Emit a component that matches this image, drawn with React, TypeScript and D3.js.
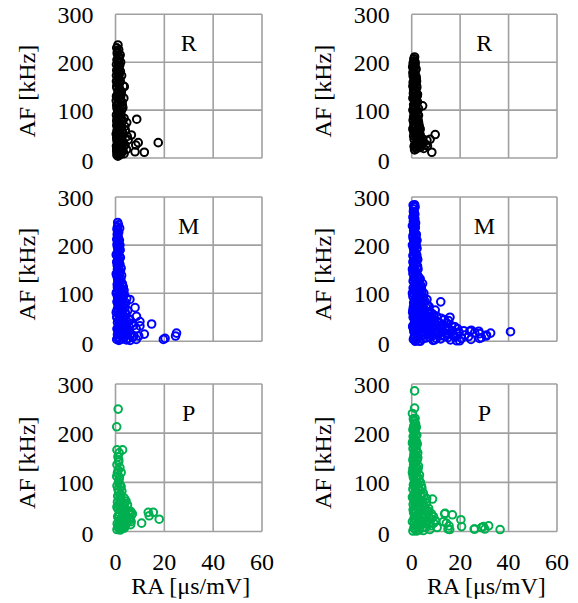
import React from "react";
import * as d3 from "d3";

const xTicks = [0, 20, 40, 60];
const yTicks = [0, 100, 200, 300];
const xTitle = "RA [μs/mV]";
const yTitle = "AF [kHz]";

// [RA, AF]
const R_left: [number, number][] = [
  [1.0,236],[0.8,222],[1.2,213],[0.6,205],[1.4,198],[0.9,190],[0.5,183],[1.6,176],[1.1,170],[0.7,163],
  [1.8,158],[1.3,152],[0.6,146],[2.0,141],[1.0,136],[1.5,130],[0.8,125],[2.2,120],[1.2,115],[0.5,110],
  [1.7,105],[2.5,100],[0.9,96],[1.4,92],[2.0,88],[0.7,84],[1.1,80],[2.8,76],[1.6,72],[0.5,68],
  [2.3,64],[1.0,60],[1.8,56],[3.0,52],[0.8,48],[1.5,44],[2.4,40],[0.6,36],[1.2,32],[2.0,28],
  [3.3,24],[0.9,20],[1.6,16],[2.6,12],[0.7,9],[1.3,6],[0.5,14],[2.1,200],[0.4,160],[2.5,172],
  [3.6,149],[3.2,150],[4.6,74],[3.5,83],[6.5,48],[8.7,81],[17.5,32],[11.8,12],[9.3,32],[8.0,13],
  [3.9,27],[2.3,10],[8.3,27],[5.2,38],[4.0,58],[2.7,45],[3.0,105],[2.2,130],[1.9,215],[0.3,120],
  [0.4,90],[0.3,50],[0.4,25],[1.0,4],
  [0.5,230],[1.3,226],[0.7,218],[1.5,209],[1.0,202],[0.4,195],[1.7,193],[1.2,186],[0.8,179],[2.0,181],
  [1.4,167],[0.4,172],[1.9,162],[1.0,156],[0.5,150],[1.6,145],[2.4,138],[0.9,132],[1.3,127],[0.4,129],
  [1.9,123],[2.7,116],[1.0,112],[0.6,104],[1.3,100],[2.0,95],[1.6,86],[0.5,78],[2.4,82],[1.2,70],
  [0.8,74],[2.0,66],[1.5,62],[0.6,57],[2.6,58],[1.2,52],[2.0,47],[0.5,42],[1.0,40],[1.8,36],
  [3.0,34],[0.8,28],[1.5,24],[2.4,20],[0.5,18],[1.9,12],[1.0,11],[3.0,15],[2.0,7],[0.6,6],
  [3.5,9],[4.5,18],[2.9,30],[4.8,45],[3.8,66],[2.2,90],[2.8,110],[3.4,125],
];

const R_right: [number, number][] = [
  [1.2,211],[1.0,203],[1.4,196],[0.8,189],[1.6,183],[1.1,177],[0.6,171],[1.9,165],[1.3,159],[0.9,153],
  [2.1,147],[1.5,141],[0.7,135],[1.8,129],[1.2,123],[2.4,117],[0.8,111],[4.5,109],[1.6,105],[2.2,99],
  [1.0,94],[2.8,89],[1.4,84],[0.6,79],[2.0,74],[3.0,69],[1.2,64],[2.5,59],[0.9,55],[3.3,51],
  [1.7,47],[2.6,43],[1.0,39],[3.8,36],[2.0,32],[1.3,28],[1.2,17],[4.2,27],[5.9,28],[6.3,37],
  [7.6,39],[9.7,49],[8.3,12],[4.5,40],[2.9,24],[1.5,22],[3.5,60],[2.6,80],[2.3,130],[2.0,160],
  [0.5,60],[0.5,100],[0.5,150],[0.4,190],[3.0,45],
  [0.9,207],[1.4,200],[0.6,198],[1.2,192],[1.8,186],[0.8,181],[1.4,174],[0.5,178],[1.8,170],[1.0,165],
  [1.5,156],[0.6,158],[2.0,151],[1.2,145],[0.8,142],[1.7,137],[2.4,133],[1.0,128],[0.5,125],[1.6,120],
  [2.0,113],[1.1,108],[2.8,103],[0.9,101],[1.8,96],[2.4,91],[1.4,90],[0.8,86],[2.1,83],[1.5,77],
  [2.8,75],[0.9,71],[1.8,67],[3.2,64],[0.7,63],[2.2,56],[1.4,52],[3.4,48],[2.0,45],[0.8,46],
  [2.6,38],[4.8,33],[3.5,30],[2.3,26],[1.0,24],[1.9,19],[3.6,22],[6.5,25],[5.0,20],
];

const M_left: [number, number][] = [
  [0.9,247],[0.8,238],[1.0,230],[0.7,222],[1.2,215],[0.9,208],[0.6,201],[1.4,195],[1.0,189],[0.7,183],
  [1.6,177],[1.1,171],[0.5,165],[1.8,160],[1.2,155],[0.8,150],[2.0,145],[1.4,140],[0.6,135],[2.2,130],
  [1.0,126],[1.6,122],[0.7,118],[3.2,113],[2.4,110],[1.2,106],[0.5,102],[1.9,98],[2.8,94],[1.0,90],
  [4.6,89],[1.5,86],[0.6,82],[2.3,79],[3.4,76],[1.1,73],[5.9,87],[8.0,70],[1.8,69],[0.7,66],
  [2.7,63],[4.0,60],[1.3,57],[3.9,51],[2.2,54],[0.5,50],[8.6,52],[3.0,47],[1.6,44],[4.6,42],
  [10.0,41],[6.6,37],[0.8,39],[2.5,35],[14.8,36],[4.2,30],[1.2,31],[3.5,27],[10.0,32],[0.6,26],
  [2.0,23],[5.0,22],[1.4,19],[3.0,17],[11.8,15],[9.5,11],[7.5,11],[0.8,14],[2.4,12],[5.3,6],
  [1.0,8],[3.6,8],[0.5,4],[2.0,4],[19.6,4],[20.3,6],[25.0,17],[24.6,11],[0.3,180],[0.3,140],
  [0.3,100],[0.3,60],[1.8,200],[2.6,100],[3.0,85],[1.7,235],
  [1.2,242],[0.6,233],[1.3,226],[0.9,218],[0.5,212],[1.6,210],[1.1,203],[0.8,196],[1.9,190],[1.3,185],
  [0.6,178],[2.0,174],[1.0,168],[1.5,163],[0.7,158],[2.3,152],[1.1,148],[1.7,143],[0.5,140],[2.5,137],
  [1.3,133],[0.9,129],[2.0,125],[2.8,120],[1.5,115],[0.8,112],[3.5,106],[2.2,104],[1.3,96],[3.6,97],
  [0.8,93],[2.4,88],[1.7,82],[4.2,80],[2.9,72],[1.0,78],[3.8,69],[2.0,60],[5.0,64],[0.9,62],
  [3.0,56],[1.8,49],[5.5,47],[2.6,42],[6.0,44],[1.2,44],[3.8,38],[7.5,33],[5.5,30],[2.0,30],
  [8.5,26],[4.5,24],[3.0,22],[1.0,22],[6.2,16],[4.2,14],[2.0,14],[7.0,8],[3.0,5],[1.4,2],
  [4.5,3],[8.5,4],[6.0,2],
];

const M_right: [number, number][] = [
  [1.2,284],[1.0,280],[0.8,275],[1.1,268],[0.9,262],[1.3,255],[0.7,249],[1.0,243],[1.5,237],[0.8,231],
  [1.2,225],[1.7,219],[0.6,214],[1.0,209],[1.4,204],[1.9,199],[0.7,194],[1.2,189],[1.6,184],[2.1,179],
  [0.9,174],[1.4,169],[0.5,165],[1.8,160],[2.4,156],[1.1,152],[0.7,147],[2.0,143],[1.5,139],[2.7,135],
  [0.9,131],[1.8,127],[3.0,123],[4.5,120],[1.2,119],[2.3,115],[0.6,111],[3.3,108],[1.6,105],[2.6,101],
  [0.9,98],[3.8,95],[1.9,92],[6.3,87],[4.6,89],[2.9,86],[1.2,83],[12.0,82],[5.0,80],[2.2,77],
  [3.6,74],[0.7,71],[6.0,70],[1.6,68],[4.3,66],[9.7,65],[2.6,63],[7.5,61],[1.1,60],[3.5,58],
  [9.0,55],[5.2,56],[2.0,53],[6.8,51],[0.6,50],[12.1,48],[15.8,50],[15.2,43],[3.8,48],[8.2,46],
  [1.5,45],[5.6,43],[10.5,41],[2.8,40],[7.0,38],[4.4,36],[13.0,35],[1.0,35],[9.3,33],[16.5,32],
  [6.1,31],[2.3,30],[17.9,30],[11.5,28],[4.0,27],[8.3,26],[0.8,25],[14.0,24],[24.0,21],[27.7,21],
  [24.6,23],[6.5,22],[2.0,21],[11.0,20],[19.5,19],[40.8,20],[32.6,17],[28.1,16],[9.5,18],[3.3,16],
  [15.0,15],[22.0,13],[30.9,13],[30.8,11],[5.2,13],[12.5,12],[1.3,12],[13.8,10],[18.0,9],[7.4,9],
  [2.7,8],[28.8,7.5],[28.0,6],[20.6,6],[10.2,6],[4.6,5],[0.7,4],[16.0,3],[18.6,1],[19.8,1],
  [8.8,2],[3.0,1],[1.5,0],[0.3,240],[0.3,200],[0.3,150],[0.3,100],[0.4,60],[0.4,30],[2.2,210],
  [2.5,170],[3.5,130],[4.0,110],[5.0,100],[4.8,60],[6.5,75],[3.0,70],
  [0.6,283],[1.4,279],[0.7,270],[1.3,264],[0.5,258],[1.1,251],[1.6,246],[0.6,240],[1.3,234],[0.9,227],
  [1.9,222],[0.5,219],[1.2,213],[1.8,208],[0.8,203],[1.4,197],[2.2,193],[0.9,187],[1.7,181],[0.5,178],
  [2.3,172],[1.1,166],[1.9,163],[0.8,158],[2.6,150],[1.4,146],[0.5,141],[2.3,137],[1.2,134],[3.0,130],
  [0.6,125],[2.2,122],[3.7,117],[1.4,112],[2.9,110],[0.8,106],[4.2,104],[1.9,100],[3.3,98],[0.5,93],
  [2.5,94],[4.8,92],[1.4,89],[3.6,86],[5.5,83],[0.8,80],[2.7,80],[4.4,78],[1.8,74],[7.2,72],
  [3.2,69],[5.3,66],[0.5,65],[2.2,65],[6.6,62],[4.0,60],[1.5,58],[8.3,58],[3.0,54],[5.8,52],
  [10.4,52],[1.0,52],[7.6,50],[4.5,48],[2.4,47],[13.5,45],[9.0,45],[6.3,44],[3.4,43],[1.2,41],
  [11.4,39],[8.0,40],[5.0,39],[2.2,36],[14.6,38],[6.8,34],[10.0,34],[3.6,33],[0.5,32],[12.4,31],
  [8.6,29],[5.5,28],[1.5,29],[19.0,26],[15.0,27],[10.2,25],[7.2,24],[3.0,24],[0.9,20],[21.5,22],
  [16.8,22],[12.8,21],[8.4,20],[4.8,19],[2.6,18],[26.0,18],[18.5,17],[14.0,17],[10.6,15],[6.6,15],
  [4.0,12],[1.0,8],[23.5,10],[17.0,12],[8.5,11],[6.0,7],[2.0,4],[12.0,5],[15.0,8],[3.5,0],
  [9.5,3],[24.5,4],
];

const P_left: [number, number][] = [
  [1.1,249],[0.5,213],[2.9,166],[0.6,166],[1.5,160],[1.0,152],[1.3,142],[0.6,136],[1.8,130],[1.1,125],
  [2.3,120],[0.5,112],[1.4,104],[1.8,96],[2.3,91],[1.0,86],[2.6,82],[3.6,68],[4.3,62],[0.8,60],
  [2.0,64],[1.5,55],[4.9,54],[3.0,50],[1.0,46],[2.4,42],[6.2,41],[6.9,36],[6.6,34],[6.1,38],
  [1.7,38],[3.5,34],[0.9,30],[2.6,28],[4.0,25],[1.5,22],[5.6,22],[6.4,20],[3.0,18],[0.7,16],
  [2.2,14],[6.2,14],[4.0,11],[1.2,8],[2.8,6],[0.6,4],[1.9,3],[13.4,39],[15.5,39],[13.8,32],
  [17.9,25],[10.7,17],[3.2,56],[2.2,75],[1.2,100],[0.9,72],[3.8,45],
  [1.3,146],[0.8,119],[1.6,110],[0.6,93],[1.3,80],[2.0,70],[0.6,50],[3.8,58],[2.0,48],[4.4,44],
  [5.3,40],[1.3,33],[3.0,30],[5.0,30],[2.0,24],[4.6,18],[6.0,26],[3.6,7],[1.0,11],[2.4,9],
];

const P_right: [number, number][] = [
  [1.2,286],[1.2,251],[1.4,230],[1.0,224],[1.6,219],[0.8,214],[1.3,209],[1.0,203],[1.7,198],[0.6,193],
  [1.2,188],[1.9,183],[0.9,178],[1.4,173],[0.6,168],[2.0,164],[1.1,159],[1.6,154],[0.7,149],[2.2,145],
  [1.3,140],[0.8,136],[1.9,131],[2.6,127],[1.0,123],[1.5,119],[0.6,115],[2.4,111],[3.0,107],[1.2,103],
  [1.8,99],[0.7,95],[2.8,91],[4.2,88],[1.4,87],[3.4,83],[2.0,79],[0.9,75],[5.0,72],[2.6,70],
  [1.3,66],[8.6,66],[3.8,63],[6.0,58],[1.9,59],[0.6,55],[4.5,54],[2.9,50],[7.0,47],[1.2,46],
  [5.2,43],[3.5,41],[7.0,41],[0.8,38],[13.6,36],[16.8,34],[13.8,37],[9.0,30],[2.2,33],[6.0,32],
  [4.2,29],[1.5,26],[8.0,25],[3.0,23],[5.6,20],[20.3,24],[9.1,17],[14.3,17],[13.1,20],[1.0,18],
  [7.0,15],[3.8,14],[15.4,11.5],[20.6,10],[2.3,10],[5.0,8],[15.7,4],[15.0,5],[26.0,5],[25.8,5],
  [29.6,10],[28.8,8],[31.8,11.5],[30.2,5],[36.5,4],[1.3,5],[3.0,3],[0.5,1],[0.3,240],[0.3,180],
  [0.3,120],[0.3,70],[0.3,20],[2.5,150],[2.4,60],
  [0.7,229],[1.3,220],[1.9,212],[0.5,207],[1.5,203],[2.1,196],[0.9,190],[1.6,186],[0.5,183],[2.3,178],
  [1.2,175],[0.7,170],[1.8,168],[2.5,160],[0.9,156],[1.4,150],[2.1,147],[0.5,145],[1.1,137],[1.7,134],
  [2.8,133],[0.5,128],[2.1,122],[1.2,117],[3.2,115],[0.7,110],[2.0,106],[3.6,100],[1.0,98],[2.4,97],
  [4.0,93],[1.6,92],[0.5,86],[3.0,85],[2.3,77],[4.8,78],[1.4,76],[3.6,74],[0.6,67],[2.2,66],
  [6.2,67],[4.5,62],[1.3,56],[3.2,57],[5.4,50],[2.2,47],[0.6,44],[4.0,45],[6.5,40],[1.6,40],
  [3.0,36],[8.2,36],[5.0,35],[2.3,28],[7.3,28],[4.0,24],[1.0,27],[6.0,22],[9.8,22],[2.5,18],
  [8.0,12],[4.6,15],[1.6,12],[6.0,9],[3.2,7],[0.9,7],[10.5,8],[4.8,2],[2.0,1],[7.5,4],
];

const FONT = "'Liberation Serif', 'Times New Roman', serif";
const GRID = "#a0a0a0";

const colsX: [number, number][] = [[115.5, 262], [411.7, 557]];
const rowsY: [number, number][] = [[14.3, 158], [197, 341.3], [384, 531.5]];

const panels = [
  { label: "R", color: "#000000", data: R_left, col: 0, row: 0 },
  { label: "R", color: "#000000", data: R_right, col: 1, row: 0 },
  { label: "M", color: "#0000ff", data: M_left, col: 0, row: 1 },
  { label: "M", color: "#0000ff", data: M_right, col: 1, row: 1 },
  { label: "P", color: "#00b050", data: P_left, col: 0, row: 2 },
  { label: "P", color: "#00b050", data: P_right, col: 1, row: 2 },
];

function Panel({ p }: { p: typeof panels[number] }) {
  const [x0, x1] = colsX[p.col];
  const [y0, y1] = rowsY[p.row];
  const x = d3.scaleLinear().domain([0, 60]).range([x0, x1]);
  const y = d3.scaleLinear().domain([0, 300]).range([y1, y0]);
  const showX = p.row === 2;
  return (
    <g>
      {xTicks.map((t) => (
        <line key={"gx" + t} x1={x(t)} x2={x(t)} y1={y0} y2={y1} stroke={GRID} strokeWidth={1.6} />
      ))}
      {yTicks.map((t) => (
        <line key={"gy" + t} x1={x0} x2={x1} y1={y(t)} y2={y(t)} stroke={GRID} strokeWidth={1.6} />
      ))}
      {yTicks.map((t) => (
        <text key={"ty" + t} x={x0 - 22} y={y(t) + 8.5 + (t === 0 ? 2 : 0)} textAnchor="end"
          style={{ fontFamily: FONT }} fontSize={24} fill="#000">{t}</text>
      ))}
      <text transform={`translate(${p.col === 0 ? 35 : 331},${(y0 + y1) / 2 + 5}) rotate(-90)`}
        textAnchor="middle" style={{ fontFamily: FONT }} fontSize={24} fill="#000">{yTitle}</text>
      <text x={x(30)} y={y0 + 37} textAnchor="middle" style={{ fontFamily: FONT }} fontSize={24} fill="#000">{p.label}</text>
      {showX && xTicks.map((t) => (
        <text key={"tx" + t} x={x(t)} y={570} textAnchor="middle" style={{ fontFamily: FONT }} fontSize={24} fill="#000">{t}</text>
      ))}
      {showX && (
        <text x={(x0 + x1) / 2 + 2} y={594} textAnchor="middle" style={{ fontFamily: FONT }} fontSize={24} fill="#000">{xTitle}</text>
      )}
      {p.data.map((d, i) => (
        <circle key={i} cx={x(d[0])} cy={y(d[1])} r={3.8} fill="none" stroke={p.color} strokeWidth={2} />
      ))}
    </g>
  );
}

export default function App() {
  return (
    <svg width={578} height={603} style={{ position: "absolute", left: 0, top: 0, background: "#fff" }}>
      <rect width={578} height={603} fill="#fff" />
      {panels.map((p, i) => <Panel key={i} p={p} />)}
    </svg>
  );
}
